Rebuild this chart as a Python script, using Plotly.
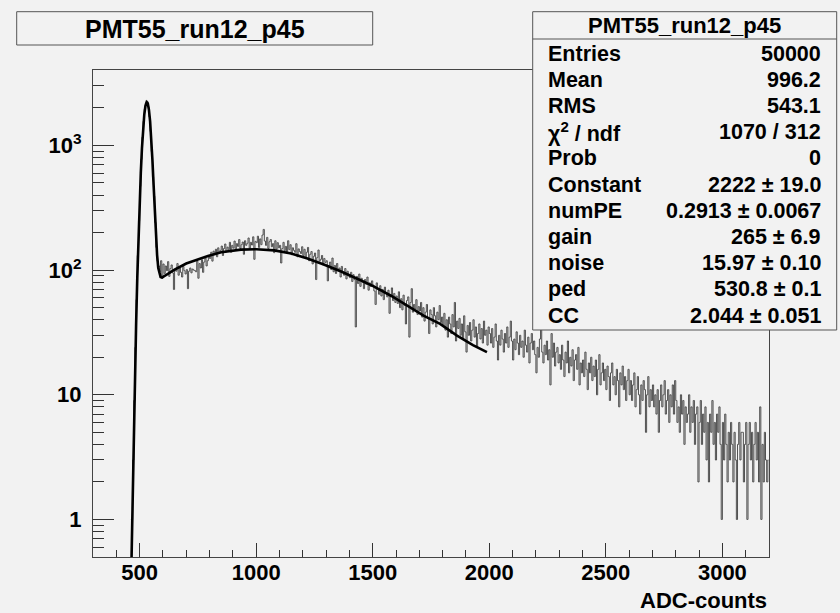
import numpy as np
import plotly.graph_objects as go

# ADC histogram, 5-count bins; bins below 460 are empty
first_bin = 460
bin_width = 5

ped_counts = [1, 1, 3, 9, 24, 58, 131, 249, 470, 772, 1162, 1561,
              1950, 2190, 2268, 2046, 1697, 1296, 893, 560, 392, 241, 152, 118]

counts_580_995 = [
    108, 97, 119, 86,
    112, 94, 108, 99, 117, 89, 103, 110, 95, 70, 101, 98, 113, 91, 104, 96, 88, 107, 99, 93,
    101, 71, 98, 104, 95, 102, 100, 99, 97, 118, 86, 113, 104, 121, 96, 116, 125, 108, 119, 131,
    124, 139, 118, 142, 133, 147, 128, 151, 137, 144, 156, 131, 149, 162, 140, 153, 146, 167, 139, 158,
    150, 171, 147, 163, 155, 176, 149, 160, 168, 134, 172, 158, 164, 181, 150, 167, 159, 185, 122, 170,
]
counts_1000_1495 = [
    166, 187, 152, 178, 160, 191, 212, 171, 158, 183, 149, 169, 176, 154, 163, 138, 172, 147, 166, 151,
    158, 114, 149, 167, 143, 155, 137, 172, 146, 160, 133, 151, 144, 139, 163, 128, 148, 141, 136, 154,
    131, 147, 125, 139, 152, 119, 134, 141, 112, 129, 137, 84, 126, 145, 118, 122, 131, 110, 124, 115,
    119, 82, 108, 116, 101, 125, 97, 109, 94, 113, 99, 104, 88, 107, 96, 91, 103, 85, 98, 90,
    87, 96, 81, 92, 84, 35, 89, 78, 93, 74, 86, 80, 71, 84, 77, 88, 69, 79, 74, 82,
]
counts_1500_1995 = [
    76, 68, 53, 79, 71, 64, 75, 62, 70, 58, 73, 66, 61, 69, 45, 63, 72, 57, 65, 55,
    62, 54, 67, 50, 59, 48, 63, 52, 37, 57, 61, 29, 55, 71, 46, 53, 49, 58, 44, 51,
    47, 55, 42, 50, 39, 46, 53, 41, 31, 48, 44, 37, 50, 43, 35, 46, 40, 52, 38, 42,
    36, 45, 33, 40, 29, 42, 37, 31, 44, 35, 55, 27, 39, 34, 41, 30, 37, 28, 43, 32,
    22, 36, 30, 38, 27, 33, 40, 29, 35, 24, 31, 37, 28, 34, 26, 39, 30, 33, 25, 35,
]
counts_2000_2495 = [
    31, 26, 34, 24, 29, 37, 27, 19, 30, 25, 33, 28, 22, 31, 26, 35, 24, 29, 39, 27,
    19, 28, 23, 32, 26, 21, 30, 24, 27, 20, 33, 25, 22, 29, 18, 26, 31, 23, 27, 21,
    15, 24, 20, 28, 36, 22, 18, 25, 21, 27, 19, 23, 12, 31, 20, 26, 17, 22, 24, 18,
    21, 16, 25, 19, 14, 22, 18, 27, 15, 20, 17, 23, 13, 19, 21, 16, 24, 12, 18, 15,
    19, 14, 22, 16, 11, 18, 15, 20, 13, 17, 14, 19, 10, 16, 21, 12, 15, 18, 13, 16,
]
counts_2500_3195 = [
    11, 17, 14, 9, 15, 18, 12, 14, 10, 16, 13, 8, 15, 12, 17, 11, 14, 9, 13, 16,
    10, 13, 9, 12, 15, 8, 11, 14, 10, 7, 12, 9, 13, 11, 5, 10, 14, 8, 11, 9,
    12, 8, 10, 7, 11, 5, 9, 12, 8, 10, 13, 7, 9, 11, 6, 10, 8, 12, 7, 13,
    9, 6, 8, 5, 10, 7, 9, 4, 8, 6, 7, 10, 5, 8, 6, 9, 4, 7, 8, 2,
    6, 9, 4, 7, 5, 8, 3, 6, 2, 7, 5, 9, 4, 6, 3, 7, 5, 8, 4, 1,
    6, 3, 7, 4, 2, 5, 3, 6, 4, 2, 5, 3, 1, 4, 6, 3, 5, 5, 2, 4,
    6, 1, 4, 6, 3, 5, 2, 4, 6, 3, 5, 2, 8, 1, 4, 2, 5, 3, 2, 3,
]

# fit curve
fit_x = [465, 470, 475, 480, 485, 490, 495, 500, 505, 510, 515, 520, 525, 530,
         535, 540, 545, 550, 555, 560, 565, 570, 575, 580, 585, 590, 596,
         620, 650, 700, 750, 793, 850, 935, 1000, 1078, 1150, 1220, 1290,
         1362, 1448, 1504, 1580, 1647, 1720, 1789, 1860, 1930, 1990]
fit_y = [0.45, 1.6, 5, 14, 37, 87, 185, 350, 600, 950, 1360, 1770, 2080, 2220,
         2170, 1930, 1560, 1130, 760, 480, 300, 190, 132, 104, 93, 88, 87,
         93, 101, 113, 122, 130, 139, 146, 147, 144, 136, 124, 111,
         98, 83, 74, 62, 52, 43, 37, 30, 25, 22]

hist_title = "PMT55_run12_p45"
stat_names = ["Entries", "Mean", "RMS", "χ<sup>2</sup> / ndf", "Prob", "Constant",
              "numPE", "gain", "noise", "ped", "CC"]
stat_values = ["50000", "996.2", "543.1", "1070 / 312", "0", "2222 ± 19.0",
               "0.2913 ± 0.0067", "265 ± 6.9", "15.97 ± 0.10", "530.8 ± 0.1",
               "2.044 ± 0.051"]

x_major = [500, 1000, 1500, 2000, 2500, 3000]
y_tick_vals = [1, 10, 100, 1000]
y_tick_text = ["1", "10", "10<sup>2</sup>", "10<sup>3</sup>"]
y_minor_vals = [0.6, 0.7, 0.8, 0.9] + [m * 10 ** d for d in range(0, 4) for m in range(2, 10) if m * 10 ** d <= 4000]

counts = np.concatenate([ped_counts, counts_580_995, counts_1000_1495,
                         counts_1500_1995, counts_2000_2495, counts_2500_3195])
centers = first_bin + bin_width * (np.arange(len(counts)) + 0.5)

W, H = 840, 613
L, R, T, B = 93, 71, 70, 56
BG = "#f2f2f2"
FONT = "Liberation Sans, Arial, Helvetica, sans-serif"


def px(x):
    return (x - L) / (W - L - R)


def py(y):
    return (H - B - y) / (H - T - B)


fig = go.Figure()
fig.add_trace(go.Scatter(x=centers, y=counts, mode="lines", line_shape="hvh",
                         line=dict(color="#3d3d3d", width=0.9), hoverinfo="skip"))
fig.add_trace(go.Scatter(x=fit_x, y=fit_y, mode="lines",
                         line=dict(color="black", width=2.6), hoverinfo="skip"))

tick_font = dict(family=FONT, size=22, color="black", weight="bold")
fig.update_xaxes(range=[300, 3200], tickmode="array", tickvals=x_major,
                 ticks="inside", ticklen=14, tickcolor="#333", showgrid=False,
                 zeroline=False, showline=True, mirror=True, linecolor="#444",
                 linewidth=1, tickfont=tick_font, ticklabelstandoff=-4, automargin=False,
                 minor=dict(ticks="inside", ticklen=7, dtick=100, tick0=0,
                            tickcolor="#333", showgrid=False))
fig.update_yaxes(type="log", range=[np.log10(0.5), 3.605], tickmode="array",
                 tickvals=y_tick_vals, ticktext=y_tick_text, ticks="inside",
                 ticklen=21, tickcolor="#333", showgrid=False, zeroline=False,
                 showline=True, mirror=True, linecolor="#444", linewidth=1,
                 tickfont=tick_font, ticklabelstandoff=6, automargin=False,
                 minor=dict(ticks="inside", ticklen=11, tickmode="array",
                            tickvals=y_minor_vals, tickcolor="#333", showgrid=False))

shapes = [
    # title box
    dict(type="rect", xref="paper", yref="paper", x0=px(16.7), x1=px(372.7),
         y0=py(45), y1=py(11.7), line=dict(color="#555", width=1), fillcolor=BG,
         layer="above"),
    # stats box
    dict(type="rect", xref="paper", yref="paper", x0=px(532.7), x1=px(836.7),
         y0=py(330), y1=py(11.7), line=dict(color="#555", width=1), fillcolor=BG,
         layer="above"),
    dict(type="line", xref="paper", yref="paper", x0=px(532.7), x1=px(836.7),
         y0=py(39), y1=py(39), line=dict(color="#555", width=1), layer="above"),
]

annotations = [
    dict(text=hist_title, x=px(194.7), y=py(28.5), xref="paper", yref="paper",
         showarrow=False, xanchor="center", yanchor="middle",
         font=dict(family=FONT, size=25, color="black", weight="bold")),
    dict(text=hist_title, x=px(684.7), y=py(25), xref="paper", yref="paper",
         showarrow=False, xanchor="center", yanchor="middle",
         font=dict(family=FONT, size=22, color="black", weight="bold")),
    dict(text="ADC-counts", x=px(768.6), y=py(600), xref="paper", yref="paper",
         showarrow=False, xanchor="right", yanchor="middle",
         font=dict(family=FONT, size=22, color="black", weight="bold")),
]
stat_font = dict(family=FONT, size=21.5, color="black", weight="bold")
for i, (name, val) in enumerate(zip(stat_names, stat_values)):
    yc = 53.5 + 26.2 * i
    annotations.append(dict(text=name, x=px(546), y=py(yc), xref="paper", yref="paper",
                            showarrow=False, xanchor="left", yanchor="middle", font=stat_font))
    annotations.append(dict(text=val, x=px(823), y=py(yc), xref="paper", yref="paper",
                            showarrow=False, xanchor="right", yanchor="middle", font=stat_font))

fig.update_layout(width=W, height=H, margin=dict(l=L, r=R, t=T, b=B, pad=0),
                  paper_bgcolor=BG, plot_bgcolor=BG, showlegend=False,
                  shapes=shapes, annotations=annotations)

# the page body has a default 8px margin; drop it so the figure fills the window
fig.write_html("out.html", config={"displayModeBar": False},
               post_script="document.body.style.margin='0';document.body.style.overflow='hidden';")
